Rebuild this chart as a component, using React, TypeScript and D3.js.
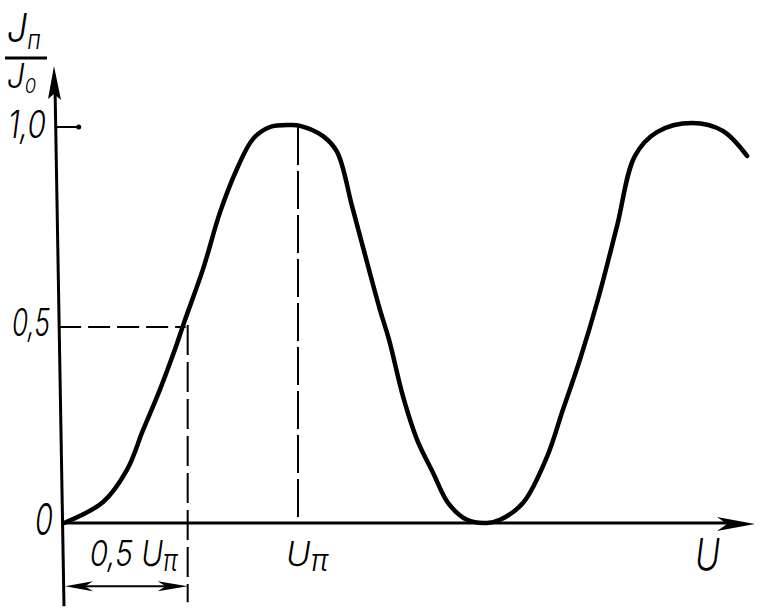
import { useEffect, useRef } from 'react';
import * as d3 from 'd3';

const width = 775;
const height = 616;

// transfer curve: U in units of U_pi, J_n / J_0
const uValues = [
    0, 0.167, 0.269, 0.338, 0.41, 0.474, 0.513, 0.594, 0.667, 0.739, 0.808, 0.88, 0.966, 1.009, 1.107, 1.167,
    1.231, 1.278, 1.35, 1.389, 1.449, 1.509, 1.577, 1.641, 1.722, 1.808, 1.863, 1.962, 2.064, 2.132, 2.205,
    2.282, 2.363, 2.44, 2.534, 2.684, 2.816, 2.919
];
const jValues = [
    0, 0.053, 0.134, 0.235, 0.337, 0.438, 0.506, 0.641, 0.785, 0.894, 0.97, 1.0, 1.005, 1.003, 0.977, 0.937,
    0.8, 0.696, 0.539, 0.463, 0.319, 0.21, 0.127, 0.051, 0.008, 0, 0.008, 0.051, 0.167, 0.286, 0.413, 0.565,
    0.749, 0.927, 0.987, 1.01, 0.99, 0.927
];

const yTickValues = [0, 0.5, 1.0];
const yTickLabels = ['0', '0,5', '1,0'];
const halfU = 0.52; // where the 0,5 U_pi guide was drawn
const fullU = 1.0;

export default function App() {
    const ref = useRef<SVGSVGElement>(null);

    useEffect(() => {
        const svg = d3.select(ref.current);
        svg.selectAll('*').remove();

        const x = d3.scaleLinear().domain([0, 1]).range([64, 298]);
        const y = d3.scaleLinear().domain([0, 1]).range([523, 127]);

        const ink = '#000';
        const font = "Inter, 'DejaVu Sans', sans-serif";
        const tilt = 9; // the drawn y axis leans a little to the left

        // label squeezed to a given width, with an optional lowered index
        const text = (
            px: number,
            py: number,
            s: string,
            size: number,
            len: number,
            sub?: string,
            subSize?: number,
            subDy?: number
        ) => {
            const t = svg
                .append('text')
                .attr('font-family', font)
                .attr('font-style', 'italic')
                .attr('font-weight', 300)
                .attr('font-size', size)
                .attr('fill', ink);
            t.append('tspan').text(s);
            if (sub) {
                t.append('tspan')
                    .attr('font-size', subSize ?? size * 0.7)
                    .attr('dy', subDy ?? 0)
                    .text(sub);
            }
            const node = t.node() as SVGTextElement;
            const w = node.getComputedTextLength() || len;
            t.attr('transform', `translate(${px},${py}) scale(${len / w},1)`);
            return t;
        };

        // axes
        const yTop = y(1.154);
        const yBottom = y(-0.21);
        const x0 = x(0);
        svg.append('line')
            .attr('x1', x0)
            .attr('y1', yBottom)
            .attr('x2', x0 - tilt)
            .attr('y2', yTop + 20)
            .attr('stroke', ink)
            .attr('stroke-width', 3);
        svg.append('path')
            .attr('d', `M${x0 - tilt - 1},${yTop} L${x0 - tilt + 6},${yTop + 34} L${x0 - tilt - 1},${yTop + 28} L${x0 - tilt - 7},${yTop + 33} Z`)
            .attr('fill', ink);

        const xEnd = x(2.953);
        svg.append('line')
            .attr('x1', x0 - 2)
            .attr('y1', y(0))
            .attr('x2', xEnd - 20)
            .attr('y2', y(0))
            .attr('stroke', ink)
            .attr('stroke-width', 3);
        svg.append('path')
            .attr('d', `M${xEnd},${y(0) + 1} L${xEnd - 38},${y(0) - 6} L${xEnd - 28},${y(0) + 1} L${xEnd - 38},${y(0) + 8} Z`)
            .attr('fill', ink);

        // tick at 1,0
        const axisAt = (v: number) => x0 - (tilt * (y(v) - yBottom)) / (yTop + 20 - yBottom);
        svg.append('line')
            .attr('x1', axisAt(1))
            .attr('y1', y(1))
            .attr('x2', axisAt(1) + 22)
            .attr('y2', y(1))
            .attr('stroke', ink)
            .attr('stroke-width', 2);
        svg.append('circle').attr('cx', axisAt(1) + 23).attr('cy', y(1)).attr('r', 2.5).attr('fill', ink);

        // dashed guides
        svg.append('line')
            .attr('x1', axisAt(0.5))
            .attr('y1', y(0.5) + 2)
            .attr('x2', x(halfU))
            .attr('y2', y(0.5) + 2)
            .attr('stroke', ink)
            .attr('stroke-width', 2)
            .attr('stroke-dasharray', '22 7');
        svg.append('line')
            .attr('x1', x(halfU) + 2)
            .attr('y1', y(0.5))
            .attr('x2', x(halfU) + 2)
            .attr('y2', y(-0.2))
            .attr('stroke', ink)
            .attr('stroke-width', 2)
            .attr('stroke-dasharray', '30 7');
        svg.append('line')
            .attr('x1', x(fullU))
            .attr('y1', y(1))
            .attr('x2', x(fullU))
            .attr('y2', y(0))
            .attr('stroke', ink)
            .attr('stroke-width', 2)
            .attr('stroke-dasharray', '38 6');

        // dimension line 0 .. 0,5 U_pi
        const yd = y(-0.16);
        const xa = x0 + 1;
        const xb = x(halfU) + 2;
        svg.append('line').attr('x1', xa + 10).attr('y1', yd).attr('x2', xb - 10).attr('y2', yd).attr('stroke', ink).attr('stroke-width', 2);
        svg.append('path')
            .attr('d', `M${xa},${yd} L${xa + 28},${yd - 5} L${xa + 20},${yd} L${xa + 28},${yd + 5} Z`)
            .attr('fill', ink);
        svg.append('path')
            .attr('d', `M${xb},${yd} L${xb - 30},${yd - 5} L${xb - 22},${yd} L${xb - 30},${yd + 5} Z`)
            .attr('fill', ink);

        // the curve
        const pts: [number, number][] = uValues.map((u, i) => [x(u), y(jValues[i])]);
        const line = d3.line().curve(d3.curveCatmullRom.alpha(0.5));
        svg.append('path')
            .attr('d', line(pts))
            .attr('fill', 'none')
            .attr('stroke', ink)
            .attr('stroke-width', 4.5)
            .attr('stroke-linecap', 'round');

        // y tick labels
        const labelPos = [
            { x: 35, dy: 12, len: 18, size: 44 },
            { x: 12, dy: 11, len: 38, size: 38 },
            { x: 8, dy: 11, len: 38, size: 38 }
        ];
        yTickValues.forEach((v, i) => {
            const p = labelPos[i];
            text(p.x, y(v) + p.dy, yTickLabels[i], p.size, p.len);
        });

        // y axis title J_п / J_0
        text(7, 42, 'J', 40, 34, 'п', 26, 7);
        svg.append('line').attr('x1', 5).attr('y1', 58).attr('x2', 47).attr('y2', 58).attr('stroke', ink).attr('stroke-width', 3);
        text(7, 88, 'J', 34, 29, '0', 20, 5);

        // x labels
        const yl = y(0) + 43;
        text(x(halfU) - 96, yl, '0,5 U', 36, 88, 'π', 30, 5);
        text(x(fullU) - 12, yl, 'U', 34, 42, 'π', 30, 5);
        text(695, yl + 4, 'U', 44, 25);
    }, []);

    return (
        <svg
            ref={ref}
            width={width}
            height={height}
            style={{ position: 'absolute', left: 0, top: 0, background: '#fff' }}
        />
    );
}
